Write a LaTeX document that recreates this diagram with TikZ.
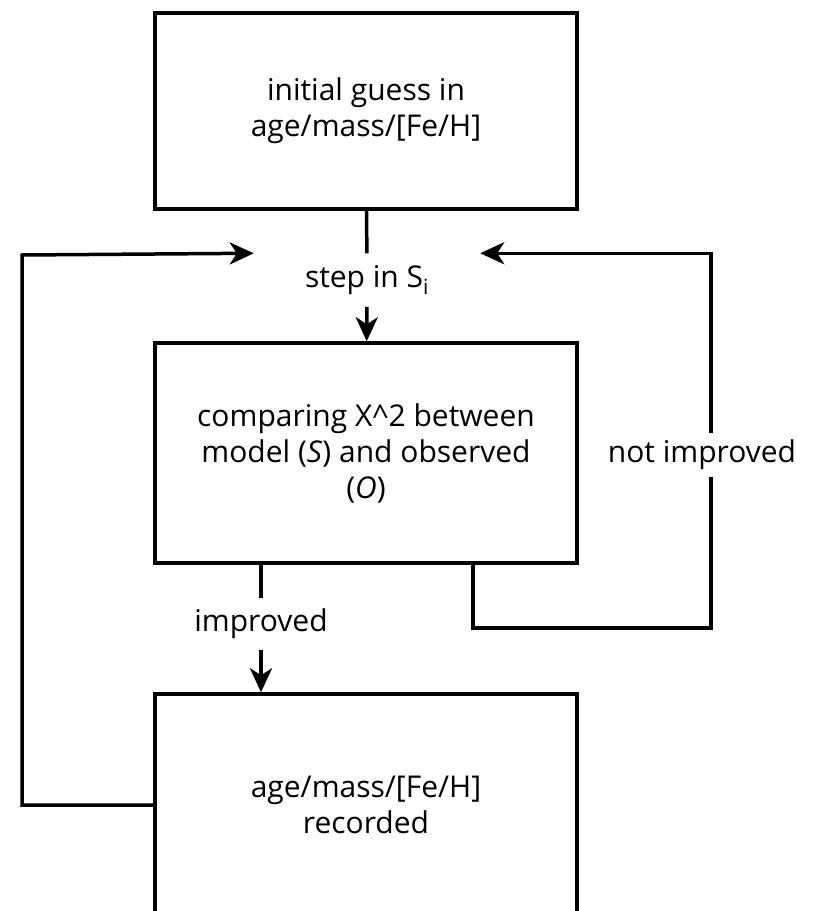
\documentclass[tikz,border=0pt]{standalone}
\usepackage{fontspec}
\setmainfont{Open Sans}
\usetikzlibrary{arrows.meta}
\begin{document}
\begin{tikzpicture}[x=1pt,y=-1pt,line width=3.5pt,
    box/.style={draw,minimum width=422pt,align=center,inner sep=0pt},
    lbl/.style={inner sep=0pt},
    arr/.style={-{Stealth[length=24pt,width=22pt,inset=7pt]}},
    font=\fontsize{30}{36}\selectfont]
    \useasboundingbox (0,0) rectangle (819,911);
    \clip (0,0) rectangle (819,911);
    \node [box,minimum height=196pt] (init) at (366,111) {initial guess in\\age/mass/[Fe/H]};
    \node [lbl,minimum width=223pt,minimum height=50pt] (step) at (367,280) {step in S\textsubscript{i}};
    \node [box,minimum height=220pt] (comp) at (366,453) {comparing X\textasciicircum 2 between\\model (\textit{S}) and observed\\(\textit{O})};
    \node [lbl,minimum height=48pt] (impr) at (261,624) {improved};
    \node [box,minimum height=222pt] (rec) at (366,805) {age/mass/[Fe/H]\\recorded};
    \node [lbl,minimum height=40pt,fill=white] (notimpr) at (702,455) {not improved};
    \draw (init) -- (step);
    \draw [arr] (step) -- (comp);
    \draw (comp.south -| impr) -- (impr);
    \draw [arr] (impr) -- (rec.north -| impr);
    \draw [arr] (rec.west) -| (22,255) -- (step.north west);
    \draw (comp.south -| 473,0) |- (711,628) -- (notimpr.south -| 711,0);
    \draw [arr] (notimpr.north -| 711,0) |- (step.north east);
\end{tikzpicture}
\end{document}
